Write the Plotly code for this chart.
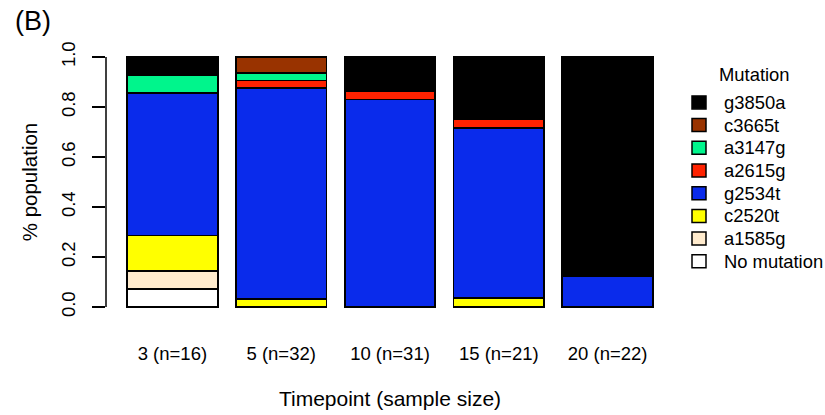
import plotly.graph_objects as go

timepoints = ["3 (n=16)", "5 (n=32)", "10 (n=31)", "15 (n=21)", "20 (n=22)"]
mutations = ["No mutation", "a1585g", "c2520t", "g2534t", "a2615g", "a3147g", "c3665t", "g3850a"]
colors = ["#FFFFFF", "#FFEBCD", "#FFFF00", "#0A2BEB", "#FF2200", "#00F58C", "#993300", "#000000"]

no_mutation = [1/14, 0, 0, 0, 0]
a1585g = [1/14, 0, 0, 0, 0]
c2520t = [2/14, 1/32, 0, 0.036, 0]
g2534t = [8/14, 27/32, 0.83, 0.68, 0.125]
a2615g = [0, 1/32, 0.032, 0.036, 0]
a3147g = [1/14, 1/32, 0, 0, 0]
c3665t = [0, 2/32, 0, 0, 0]
g3850a = [1/14, 0, 0.138, 0.248, 0.875]

series = [no_mutation, a1585g, c2520t, g2534t, a2615g, a3147g, c3665t, g3850a]

# bar centres in barplot units (width 1, space 0.2)
xpos = [0.7 + 1.2 * i for i in range(len(timepoints))]

FONT = "Liberation Sans, Arial, Helvetica, sans-serif"

W, H = 825, 415
L, R_, T, B = 106, 151, 47.3, 97.7
PW, PH = W - L - R_, H - T - B


def px_to_paper_x(px):
    return (px - L) / PW


def px_to_paper_y(py):
    return (H - B - py) / PH


fig = go.Figure()
for name, col, vals in zip(mutations, colors, series):
    fig.add_trace(go.Bar(
        x=xpos, y=[v if v > 0 else None for v in vals], name=name, width=1.0,
        marker=dict(color=col, line=dict(color="black", width=1.8)),
        showlegend=False,
    ))

fig.update_layout(
    width=W, height=H,
    barmode="stack",
    plot_bgcolor="white", paper_bgcolor="white",
    margin=dict(l=L, r=R_, t=T, b=B, autoexpand=False),
    font=dict(family=FONT, size=18, color="black"),
    showlegend=False,
)

fig.update_xaxes(
    range=[-0.032, 6.232], tickvals=xpos, ticktext=timepoints,
    showline=False, showgrid=False, zeroline=False,
    ticks="outside", ticklen=20, tickcolor="rgba(0,0,0,0)",
    tickfont=dict(size=18.5),
    title=dict(text="Timepoint (sample size)", standoff=28, font=dict(size=21)),
    automargin=False,
)
fig.update_yaxes(
    range=[-0.04, 1.04], tickvals=[0, 0.2, 0.4, 0.6, 0.8, 1.0],
    ticktext=["0.0", "0.2", "0.4", "0.6", "0.8", "1.0"],
    tickangle=-90, showline=False, showgrid=False, zeroline=False,
    ticks="outside", ticklen=13, tickwidth=1.5, tickcolor="black",
    tickfont=dict(size=18.5), ticklabelstandoff=10,
    title=dict(text="% population", standoff=14, font=dict(size=20.5)),
    automargin=False,
)

fig.add_shape(type="line", xref="paper", yref="y", x0=0, x1=0, y0=0, y1=1,
              line=dict(color="black", width=1.5))

# legend (manual, R style)
fig.add_annotation(text="Mutation", xref="paper", yref="paper",
                   x=px_to_paper_x(754), y=px_to_paper_y(75),
                   xanchor="center", yanchor="middle", showarrow=False,
                   font=dict(size=18.4))
legend_order = list(reversed(range(len(mutations))))
for k, idx in enumerate(legend_order):
    cy = 102.7 + 22.7 * k
    fig.add_shape(type="rect", xref="paper", yref="paper",
                  x0=px_to_paper_x(692), x1=px_to_paper_x(706),
                  y0=px_to_paper_y(cy + 6.5), y1=px_to_paper_y(cy - 6.5),
                  fillcolor=colors[idx], line=dict(color="black", width=1.5))
    fig.add_annotation(text=mutations[idx], xref="paper", yref="paper",
                       x=px_to_paper_x(722), y=px_to_paper_y(cy),
                       xanchor="left", yanchor="middle", showarrow=False,
                       font=dict(size=18.4))

fig.add_annotation(text="(B)", xref="paper", yref="paper",
                   x=px_to_paper_x(33), y=px_to_paper_y(21),
                   xanchor="center", yanchor="middle", showarrow=False,
                   font=dict(size=27, family=FONT))

fig.write_html("out.html", config={"displayModeBar": False},
               post_script="document.body.style.margin='0';")
